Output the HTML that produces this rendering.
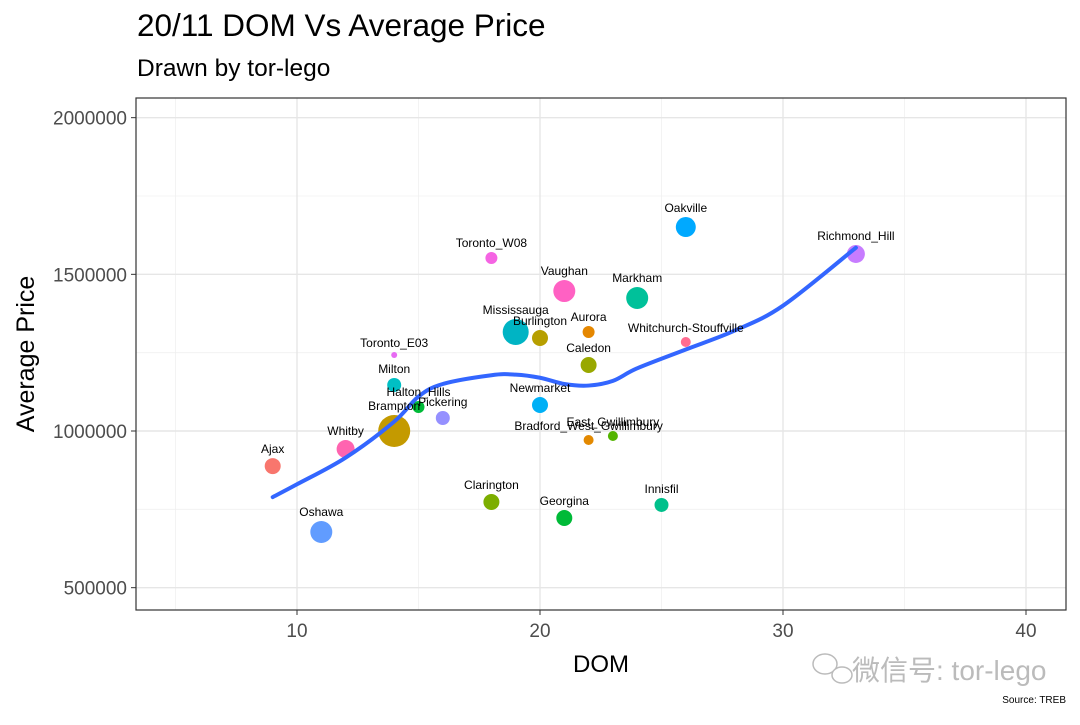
<!DOCTYPE html>
<html><head><meta charset="utf-8"><style>
body{margin:0;background:#fff;}
svg text{font-family:"Liberation Sans","Noto Sans CJK SC",sans-serif;}
</style></head><body>
<svg id="chart" width="1080" height="720">
<text x="137" y="36" font-size="31.5" fill="#000">20/11 DOM Vs Average Price</text>
<text x="137" y="76" font-size="24.5" fill="#000">Drawn by tor-lego</text>
<g id="grid"></g>
<g id="points"></g>
<g id="smooth"></g>
<g id="labels"></g>
<rect x="136" y="98" width="930" height="512" fill="none" stroke="#333" stroke-width="1.2"/>
<g id="axes"></g>
<text x="601" y="672" font-size="24" text-anchor="middle" fill="#000">DOM</text>
<text transform="translate(34,354) rotate(-90)" font-size="25" text-anchor="middle" fill="#000">Average Price</text>
<g>
<ellipse cx="825" cy="664" rx="12" ry="10" fill="none" stroke="#bbb" stroke-width="1.5"/>
<ellipse cx="842" cy="675" rx="10" ry="8" fill="#fff" stroke="#bbb" stroke-width="1.5"/>
<text x="852" y="680" font-size="28" fill="#bbb">微信号: tor-lego</text>
</g>
<text x="1066" y="703" font-size="10" text-anchor="end" fill="#000">Source: TREB</text>
</svg>
<script>
const names=["Ajax","Oshawa","Whitby","Brampton","Milton","Toronto_E03","Halton_Hills","Pickering","Toronto_W08","Clarington","Mississauga","Burlington","Newmarket","Vaughan","Georgina","Aurora","Caledon","Bradford_West_Gwillimbury","East_Gwillimbury","Markham","Innisfil","Oakville","Whitchurch-Stouffville","Richmond_Hill"];
const dom=[9,11,12,14,14,14,15,16,18,18,19,20,20,21,21,22,22,22,23,24,25,26,26,33];
const price=[888000,677700,942500,1000000,1146800,1242500,1076600,1041500,1552000,773500,1316000,1296800,1083000,1446700,722400,1316000,1210600,971300,984000,1424400,763900,1651000,1284000,1565000];
const sizes=[8,11,9,16,7,3,6,7,6,8,13,8,8,11,8,6,8,5,5,11,7,10,5,9];
const colors=["#F8766D","#619CFF","#FF64B0","#C49A00","#00BFC4","#E76BF3","#00BA38","#9590FF","#F564E3","#7CAE00","#00B4C4","#B79F00","#00B0F6","#FF61C3","#00BA38","#E58700","#99A800","#E38900","#53B400","#00C19A","#00C08B","#00A9FF","#FF6C91","#C77CFF"];
const smoothDom=[9,10,12,14,15,16,18,19,20,21,22,23,24,26,28,30,33];
const smoothPrice=[789000,830000,915000,1030000,1110000,1150000,1178000,1180000,1170000,1150000,1145000,1160000,1200000,1260000,1320000,1400000,1585000];
const xTicks=[10,20,30,40];
const yTicks=[500000,1000000,1500000,2000000];
const ns="http://www.w3.org/2000/svg";
const X=d=>297+(d-10)*24.3;
const Y=p=>431-(p-1000000)*156.67/500000;
function mk(t,a,parent){const e=document.createElementNS(ns,t);for(const k in a)e.setAttribute(k,a[k]);document.getElementById(parent).appendChild(e);return e;}
const grid="grid";
[5,15,25,35].forEach(v=>{const l=mk("line",{x1:X(v),x2:X(v),y1:98,y2:610,stroke:"#f0f0f0","stroke-width":0.8},grid);});
[750000,1250000,1750000].forEach(v=>{const l=mk("line",{x1:136,x2:1066,y1:Y(v),y2:Y(v),stroke:"#f0f0f0","stroke-width":0.8},grid);});
xTicks.forEach(v=>{const l=mk("line",{x1:X(v),x2:X(v),y1:98,y2:610,stroke:"#e6e6e6","stroke-width":1.4},grid);
const t=mk("line",{x1:X(v),x2:X(v),y1:610,y2:615,stroke:"#333"},"axes");
const tx=mk("text",{x:X(v),y:637,"font-size":19,"text-anchor":"middle",fill:"#4d4d4d"},"axes");tx.textContent=v;});
yTicks.forEach(v=>{const l=mk("line",{x1:136,x2:1066,y1:Y(v),y2:Y(v),stroke:"#e6e6e6","stroke-width":1.4},grid);
const t=mk("line",{x1:131,x2:136,y1:Y(v),y2:Y(v),stroke:"#333"},"axes");
const tx=mk("text",{x:127,y:Y(v)+7,"font-size":19,"text-anchor":"end",fill:"#4d4d4d"},"axes");tx.textContent=v;});
const pts=smoothDom.map((v,i)=>[X(v),Y(smoothPrice[i])]);
let d="M"+pts[0][0]+","+pts[0][1];
for(let i=0;i<pts.length-1;i++){const p0=pts[Math.max(0,i-1)],p1=pts[i],p2=pts[i+1],p3=pts[Math.min(pts.length-1,i+2)];
const c1=[p1[0]+(p2[0]-p0[0])/6,p1[1]+(p2[1]-p0[1])/6],c2=[p2[0]-(p3[0]-p1[0])/6,p2[1]-(p3[1]-p1[1])/6];
d+="C"+c1.join(",")+" "+c2.join(",")+" "+p2.join(",");}
const sl=mk("path",{d:d,fill:"none",stroke:"#3366FF","stroke-width":4,"stroke-linejoin":"round","stroke-linecap":"round"},"smooth");

names.forEach((n,i)=>{const c=mk("circle",{cx:X(dom[i]),cy:Y(price[i]),r:sizes[i],fill:colors[i]},"points");

const t=mk("text",{x:X(dom[i]),y:Y(price[i])-sizes[i]-5,"font-size":12,"text-anchor":"middle",fill:"#000"},"labels");t.textContent=n;
});
</script>
</body></html>
